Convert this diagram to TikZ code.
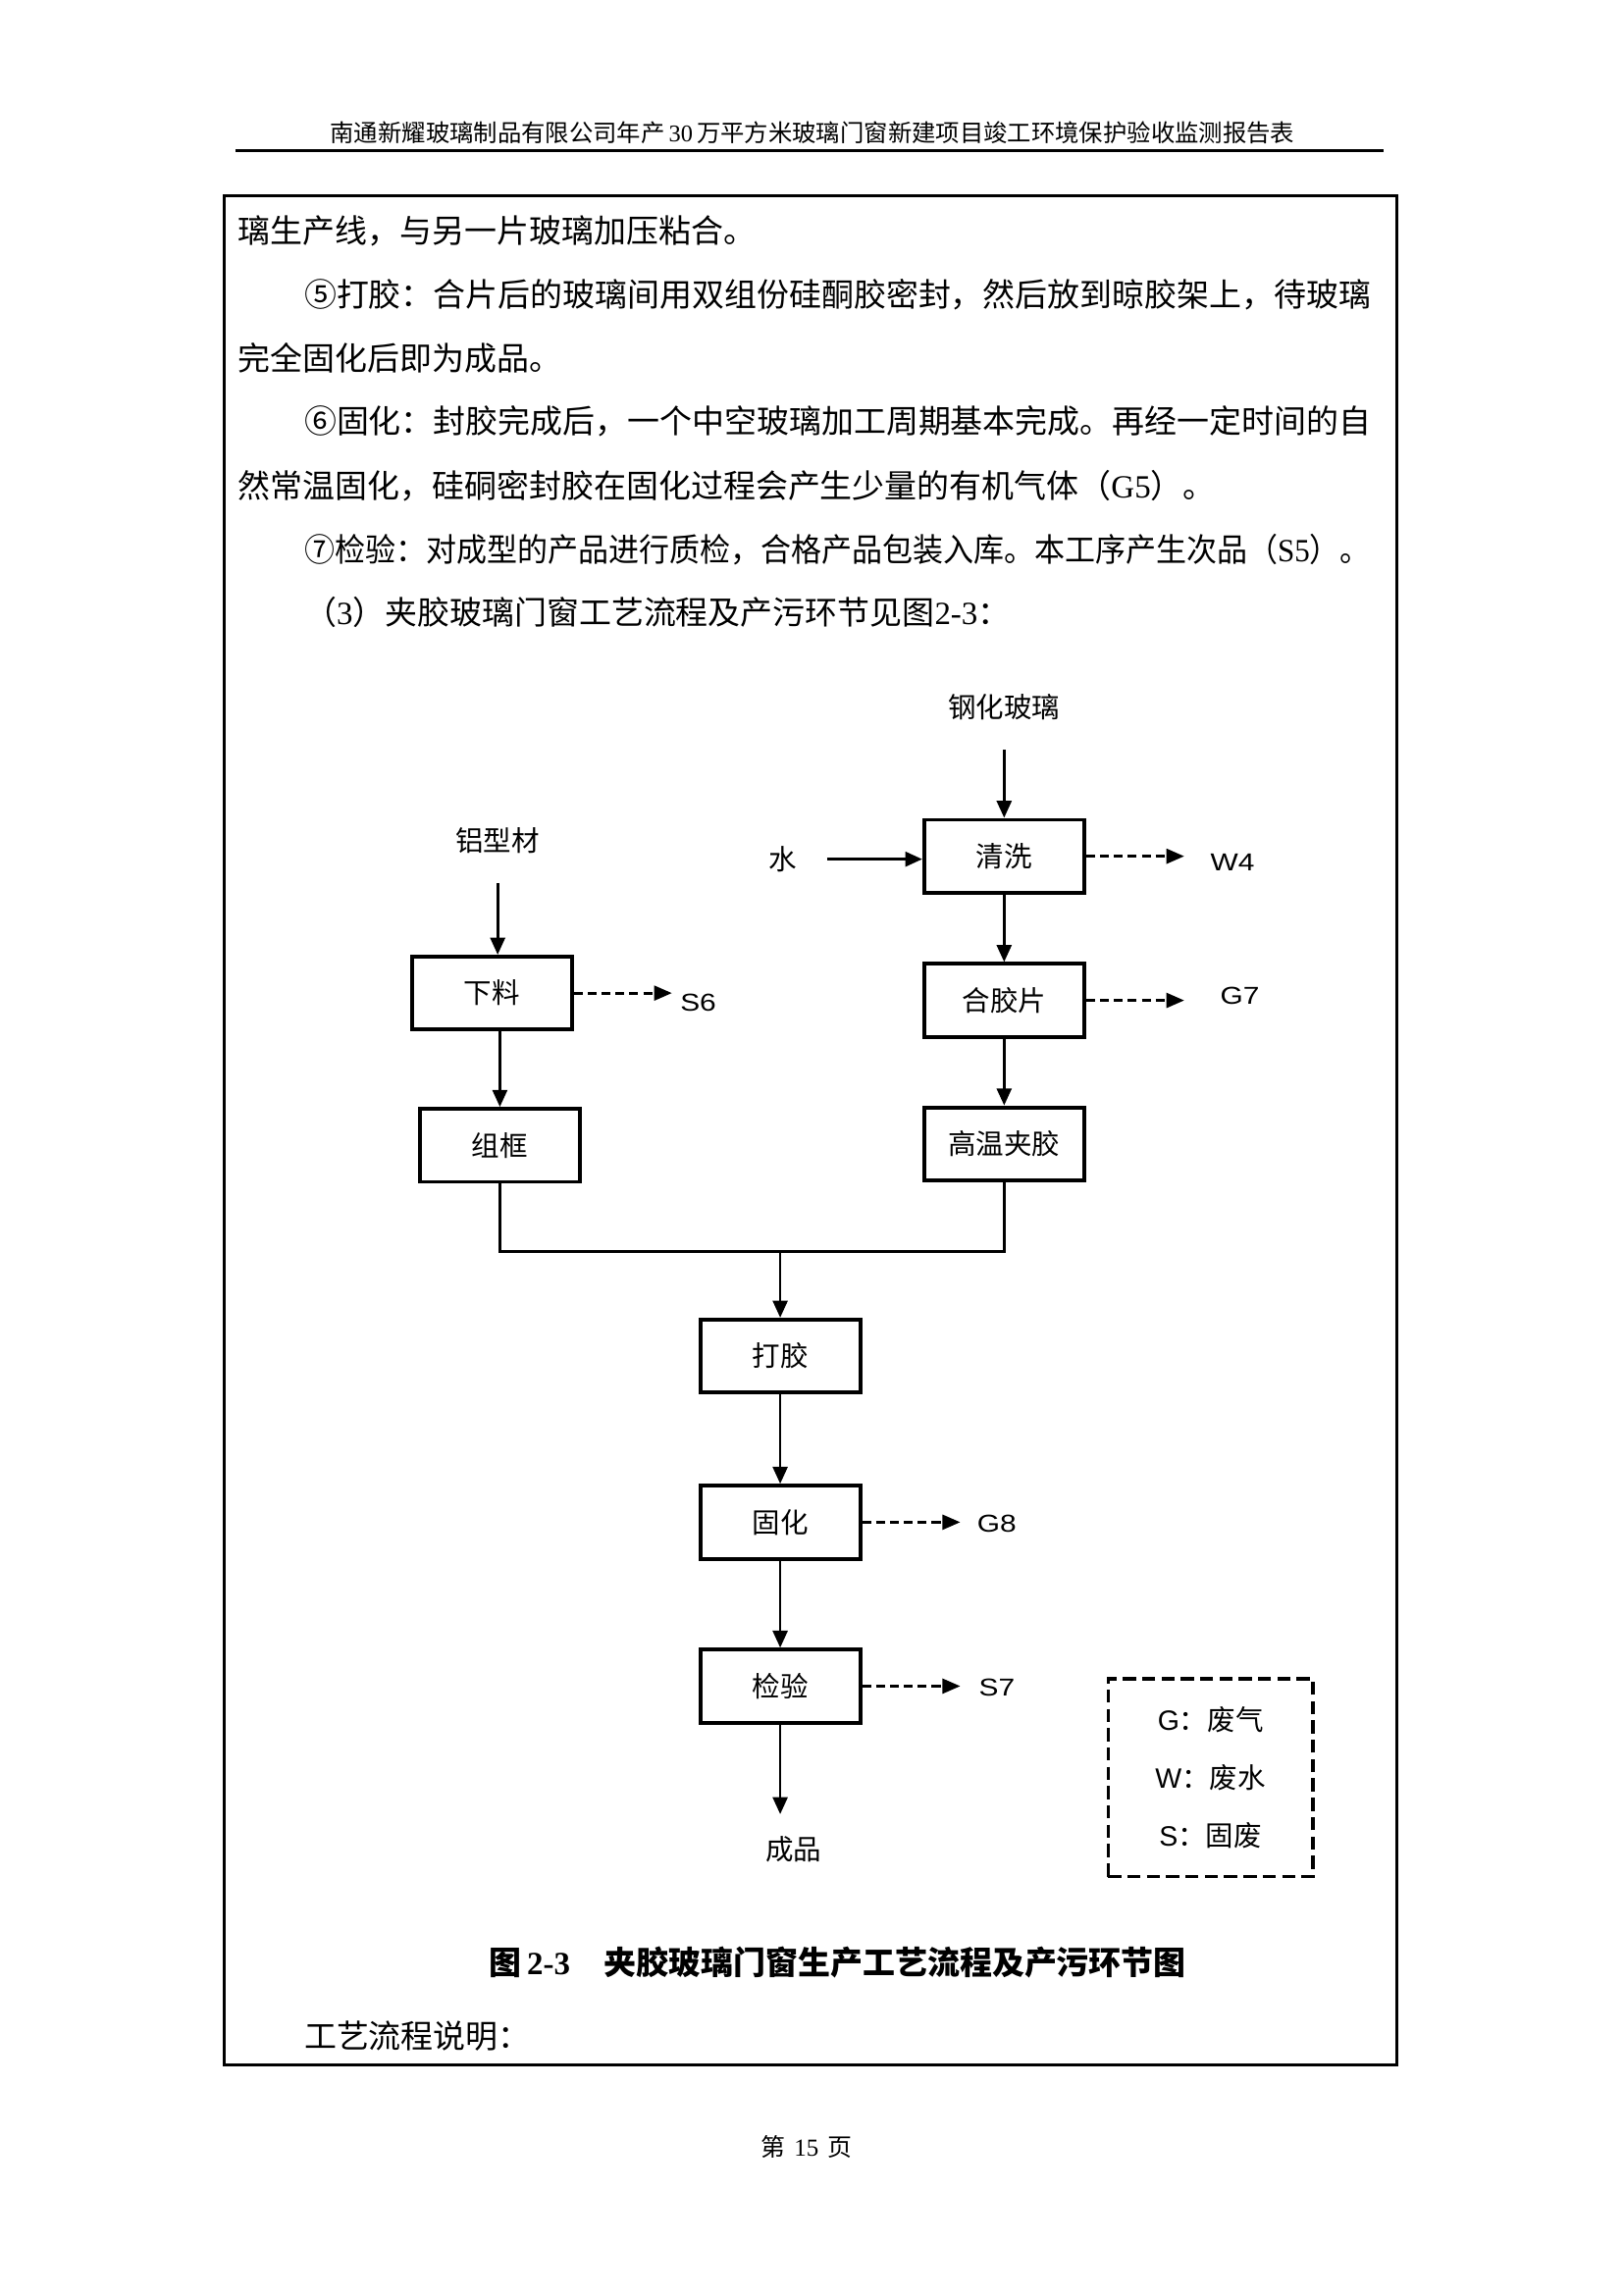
\documentclass[tikz,border=0pt]{standalone}
\usepackage{fontspec}
\setmainfont{Noto Sans CJK SC}
\newfontfamily\tnr{Liberation Serif}
\newfontfamily\arl{Liberation Sans}
\newfontfamily\arw{Liberation Sans}[FakeStretch=1.2]
\usepackage{graphicx}
\usetikzlibrary{
  arrows.meta,
  positioning
}
\tikzset{
  stepbox/.style={draw,line width=1.4pt,minimum width=20.7mm,minimum height=9.45mm,inner sep=0pt,font=\fontsize{10.3}{12}\selectfont},
  txt/.style={inner sep=0pt,font=\fontsize{10.3}{12}\selectfont},
  emis/.style={inner sep=0pt,font=\arw\fontsize{9}{11}\selectfont},
  bodyline/.style={anchor=west,inner sep=0pt,font=\fontsize{11.9}{14}\selectfont},
  flow/.style={-{Triangle[length=2.2mm,width=1.9mm]},line width=1pt},
  feed/.style={flow,shorten <=3.8mm},
  joinline/.style={line width=1pt},
  emit/.style={-{Triangle[length=2.3mm,width=1.9mm]},line width=1pt,dash pattern=on 1.15mm off 0.65mm},
  legendbox/.style={draw,line width=1.2pt,dash pattern=on 1.7mm off 0.8mm,minimum width=26.5mm,minimum height=25.6mm,align=center,font=\fontsize{10.3}{12}\selectfont}
}
\begin{document}
\begin{tikzpicture}[x=0.18937mm,y=-0.18937mm]
\useasboundingbox (0,0) rectangle (1109,1568);
\node[inner sep=0pt,font=\fontsize{8.8}{10}\selectfont] (hd) at (555,91) {南通新耀玻璃制品有限公司年产{\tnr\,30\,}万平方米玻璃门窗新建项目竣工环境保护验收监测报告表};
\draw[line width=1pt] (161,103) -- (945,103);
\draw[line width=1.1pt] (153,134) rectangle (954,1411);

\node[bodyline] (t1) at (162.5,157.6) {璃生产线，与另一片玻璃加压粘合。};
\node[bodyline] (t2) at (207.5,201) {⑤打胶：合片后的玻璃间用双组份硅酮胶密封，然后放到晾胶架上，待玻璃};
\node[bodyline] (t3) at (162.5,244.7) {完全固化后即为成品。};
\node[bodyline] (t4) at (207.5,288) {⑥固化：封胶完成后，一个中空玻璃加工周期基本完成。再经一定时间的自};
\node[bodyline] (t5) at (162.5,332) {然常温固化，硅硐密封胶在固化过程会产生少量的有机气体（{\tnr G5}）。};
\node[bodyline] (t6) at (207.5,375.5) {\scalebox{0.941}[1]{⑦检验：对成型的产品进行质检，合格产品包装入库。本工序产生次品（{\tnr S5}）。}};
\node[bodyline] (t7) at (207.5,418.5) {（{\tnr 3}）夹胶玻璃门窗工艺流程及产污环节见图{\tnr 2-3}：};

\node[txt] (gl) at (686,483) {钢化玻璃};
\node[stepbox] (qx) at (686,585) {清洗};
\node[txt] (water) at (535,587) {水};
\node[stepbox] (hj) at (686,683.5) {合胶片};
\node[stepbox] (gw) at (686,781.5) {高温夹胶};
\node[txt] (al) at (340,574) {铝型材};
\node[stepbox] (xl) at (336,678.5) {下料};
\node[stepbox] (zk) at (341.5,782.5) {组框};
\coordinate (mj) at (533,855);
\node[stepbox] (dj) at (533,926.5) {打胶};
\node[stepbox] (gh) at (533,1040) {固化};
\node[stepbox] (jy) at (533,1152) {检验};
\node[txt] (cp) at (542,1263.5) {成品};
\node[emis] (w4) at (842,589) {W4};
\node[emis] (g7) at (847,680.5) {G7};
\node[emis] (s6) at (477,685) {S6};
\node[emis] (g8) at (681,1041) {G8};
\node[emis] (s7) at (681,1153) {S7};
\node[legendbox] (lg) at (827,1214.5) {{\arl G}：废气\\[3.25mm]{\arl W}：废水\\[3.25mm]{\arl S}：固废};

\draw[feed] (gl) -- (qx);
\draw[feed] (water.east) -- (water.east -| qx.west);
\draw[flow] (qx) -- (hj);
\draw[flow] (hj) -- (gw);
\draw[feed] (al) -- (al |- xl.north);
\draw[flow] (xl.south -| zk) -- (zk);
\draw[joinline] (zk) |- (mj) -| (gw);
\draw[flow] (mj) -- (dj);
\draw[flow] (dj) -- (gh);
\draw[flow] (gh) -- (jy);
\draw[flow,shorten >=2.8mm] (jy) -- (jy |- cp.north);
\foreach \b in {qx,hj,xl,gh,jy}{
  \coordinate (\b-o) at ([xshift=12.7mm]\b.east);
  \draw[emit] (\b.east) -- (\b-o);
}

\node[anchor=west,inner sep=0pt,font=\bfseries\fontsize{11.9}{14}\selectfont] (cap) at (334,1341) {图\,{\tnr\bfseries 2-3}\hspace{1.05em}夹胶玻璃门窗生产工艺流程及产污环节图};
\node[bodyline] (t8) at (207.5,1391) {工艺流程说明：};
\node[inner sep=0pt,font=\fontsize{9}{11}\selectfont] (pg) at (551,1467) {第\hspace{1.2mm}{\tnr 15}\hspace{1.2mm}页};
\end{tikzpicture}
\end{document}
